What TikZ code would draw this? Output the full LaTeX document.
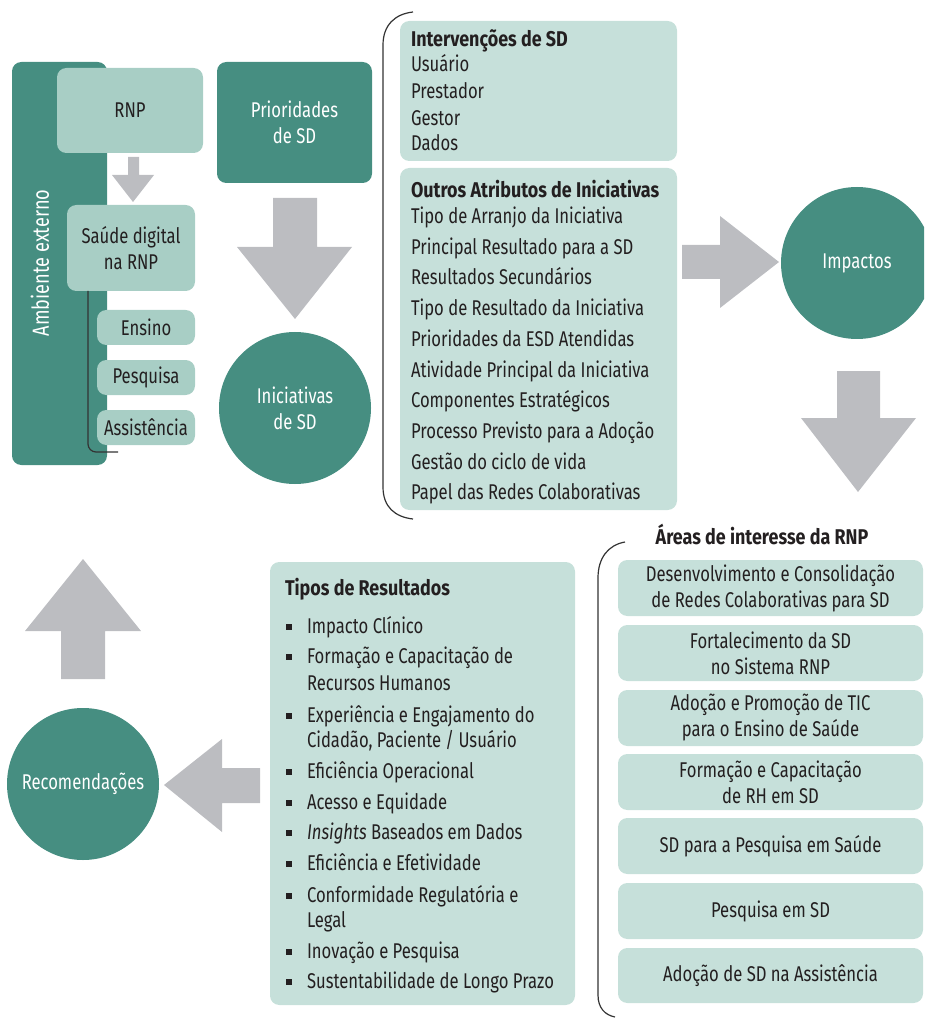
\documentclass[tikz,border=0pt]{standalone}
\usepackage{fontspec}
\setmainfont{Fira Sans}[FakeStretch=0.78]
\newfontfamily\ttlfont{Fira Sans}[FakeStretch=0.84]
\definecolor{dteal}{HTML}{468E81}
\definecolor{lteal}{HTML}{A8CEC5}
\definecolor{pteal}{HTML}{C6E0DA}
\definecolor{agray}{HTML}{BCBDC1}
\definecolor{ink}{HTML}{231F20}
\definecolor{brk}{HTML}{333333}
\newcommand\bx[6]{\node[#6, minimum width={(#4-#2)*0.75pt}, minimum height={(#5-#3)*0.75pt}] (#1) at ({(#2+#4)/2},{(#3+#5)/2})}
\tikzset{
 every node/.style={font=\fontsize{16}{19.5}\selectfont, text=ink, inner sep=0pt, outer sep=0pt},
 dbox/.style={fill=dteal, rounded corners=7pt, text=white, align=center},
 lbox/.style={fill=lteal, rounded corners=7pt, align=center},
 pbox/.style={fill=pteal, rounded corners=7pt, align=center},
 circ/.style={circle, fill=dteal, minimum size=114pt, text=white, align=center},
 garrow/.style={fill=agray},
 bracket/.style={draw=brk, line width=0.9pt},
 lbl/.style={anchor=base west},
 ttl/.style={anchor=base west, font=\fontsize{16}{19.5}\ttlfont\bfseries},
 bul/.style={fill=ink, minimum size=3.8pt},
}
\begin{document}
\begin{tikzpicture}[x=0.75pt,y=-0.75pt]
\useasboundingbox (0,0) rectangle (924,1019);
\clip (0,0) rectangle (924,1019);
% ---------- left block
\bx{amb}{12}{62}{107}{465}{dbox} {};
\node[rotate=90, text=white, font=\fontsize{17.5}{20}\selectfont] (ambt) at (40,263) {Ambiente externo};
\bx{rnp}{57}{68}{203}{153}{lbox} {RNP};
\fill[garrow] (128,157) -- (139,157) -- (139,175) -- (154,175) -- (133,202) -- (112,175) -- (128,175) -- cycle;
\bx{sdr}{67}{205}{195}{291}{lbox} {Saúde digital\\na RNP};
\coordinate (sdend) at (118,452);
\draw[bracket, rounded corners=6pt] (88,291) |- (sdend);
\bx{ens}{97}{310}{195}{345}{lbox} {Ensino};
\bx{pes}{97}{360}{195}{395}{lbox} {Pesquisa};
\bx{ass}{97}{410}{195}{445}{lbox} {Assistência};
% ---------- prioridades
\bx{pri}{217}{62}{372}{183}{dbox} {Prioridades\\de SD};
\fill[garrow] (273,198) -- (317,198) -- (317,247) -- (352,247) -- (295,319) -- (237,247) -- (273,247) -- cycle;
\node[circ] (ini) at (295,408) {Iniciativas\\de SD};
% ---------- middle column
\draw[bracket] (413,12) .. controls (395,14) and (383,25) .. (383,45) -- (383,487) .. controls (383,507) and (395,517) .. (413,519);
\bx{intv}{400}{21}{677}{161}{pbox} {};
\node[ttl] (iv0) at (411,47) {Intervenções de SD};
\node[lbl] (iv1) at (411,72) {Usuário};
\node[lbl] (iv2) at (411,99) {Prestador};
\node[lbl] (iv3) at (411,126) {Gestor};
\node[lbl] (iv4) at (411,151) {Dados};
\bx{outr}{400}{168}{677}{510}{pbox} {};
\node[ttl] (ou0) at (411,198) {Outros Atributos de Iniciativas};
\foreach \t [count=\i] in {Tipo de Arranjo da Iniciativa,Principal Resultado para a SD,Resultados Secundários,Tipo de Resultado da Iniciativa,Prioridades da ESD Atendidas,Atividade Principal da Iniciativa,Componentes Estratégicos,Processo Previsto para a Adoção,Gestão do ciclo de vida,Papel das Redes Colaborativas}
  \node[lbl] (ou\i) at (411,{223.5+30.7*(\i-1)}) {\t};
% ---------- impactos
\fill[garrow] (682,245) -- (720,245) -- (720,216) -- (779,262) -- (720,308) -- (720,279) -- (682,279) -- cycle;
\node[circ] (imp) at (857,263) {Impactos};
\fill[garrow] (837,371) -- (880,371) -- (880,418) -- (916,418) -- (858,492) -- (801,418) -- (837,418) -- cycle;
% ---------- areas
\node[ttl, anchor=base] (areat) at (762,544) {Áreas de interesse da RNP};
\draw[bracket] (625,542) .. controls (608,545) and (598,558) .. (598,578) -- (598,995) .. controls (598,1008) and (605,1015) .. (615,1017);
\bx{a1}{618}{560}{923}{616}{pbox} {Desenvolvimento e Consolidação\\de Redes Colaborativas para SD};
\bx{a2}{618}{625}{923}{681}{pbox} {Fortalecimento da SD\\no Sistema RNP};
\bx{a3}{618}{690}{923}{746}{pbox} {Adoção e Promoção de TIC\\para o Ensino de Saúde};
\bx{a4}{618}{754}{923}{810}{pbox} {Formação e Capacitação\\de RH em SD};
\bx{a5}{618}{818}{923}{874}{pbox} {SD para a Pesquisa em Saúde};
\bx{a6}{618}{883}{923}{939}{pbox} {Pesquisa em SD};
\bx{a7}{618}{948}{923}{1003}{pbox} {Adoção de SD na Assistência};
% ---------- tipos
\bx{tip}{270}{562}{575}{1005}{pbox} {};
\node[ttl] (tp0) at (285,595) {Tipos de Resultados};
\foreach \yy/\t [count=\i] in {633/Impacto Clínico,663/Formação e Capacitação de,722/Experiência e Engajamento do,778/Eficiência Operacional,809/Acesso e Equidade,839/{\textit{Insights} Baseados em Dados},870/Eficiência e Efetividade,902/Conformidade Regulatória e,958/Inovação e Pesquisa,988/Sustentabilidade de Longo Prazo}
  {\node[bul] (b\i) at (289,\yy-6) {};
   \node[lbl] (tp\i) at (307,\yy) {\t};}
\node[lbl] (tp2b) at (307,690) {Recursos Humanos};
\node[lbl] (tp3b) at (307,747) {Cidadão, Paciente / Usuário};
\node[lbl] (tp8b) at (307,927) {Legal};
% ---------- recomendacoes
\fill[garrow] (260,768) -- (222,768) -- (222,739) -- (164,785) -- (222,832) -- (222,803) -- (260,803) -- cycle;
\node[circ] (rec) at (83,784) {Recomendações};
\fill[garrow] (61,679) -- (61,631) -- (25,631) -- (83,559) -- (141,631) -- (105,631) -- (105,679) -- cycle;
\end{tikzpicture}
\end{document}
